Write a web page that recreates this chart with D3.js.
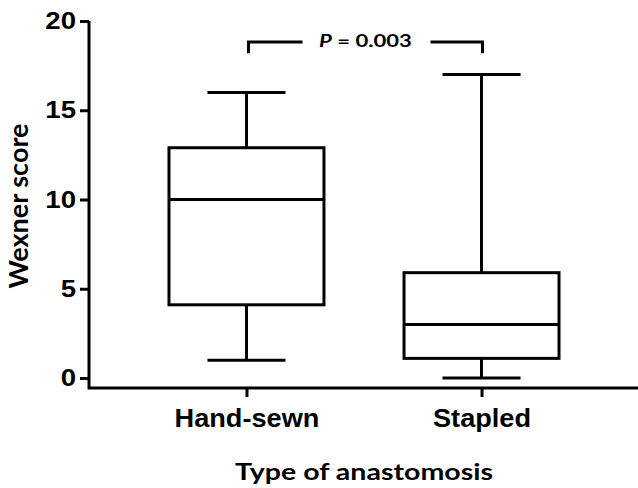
<!DOCTYPE html>
<html>
<head>
<meta charset="utf-8">
<script src="https://cdn.jsdelivr.net/npm/d3@7"></script>
<style>
  body { margin: 0; background: #fff; }
  svg { display: block; }
</style>
</head>
<body>
<div id="chart"></div>
<script>
// categories and box stats
const groups = ["Hand-sewn", "Stapled"];
const whiskerLow = [1, 0];
const q1 = [4.1, 1.1];
const median = [10, 3];
const q3 = [12.9, 5.9];
const whiskerHigh = [16, 17];

const yTicks = [0, 5, 10, 15, 20];
const pLabel = "0.003";
// bracket level / bracket foot in data units
const bracketY = [18.83, 18.2];

const W = 638, H = 488;
const svg = d3.select("#chart").append("svg")
    .attr("width", W)
    .attr("height", H);

const y = d3.scaleLinear().domain([0, 20]).range([378, 21]);
const x = d3.scalePoint().domain(groups).range([89, 639]).padding(0.67);

const axisX = 89, axisY = 388;
const sw = 3;
// the original figure is a bit stretched sideways, text too
const armFont = "'Liberation Sans', Arial, sans-serif";
const calFont = "Lato, 'Open Sans', sans-serif";

// y axis
const gy = svg.append("g")
    .attr("transform", `translate(${axisX},0)`)
    .call(d3.axisLeft(y).tickValues(yTicks).tickSize(9));
gy.select(".domain").remove();
gy.selectAll(".tick line").attr("stroke", "#000").attr("stroke-width", sw);
gy.selectAll(".tick text")
    .attr("x", 0)
    .attr("transform", "translate(-13,0) scale(1.15,1)")
    .attr("font-family", armFont)
    .attr("font-weight", "bold")
    .attr("font-size", 24)
    .attr("fill", "#000");

// x axis
const gx = svg.append("g")
    .attr("transform", `translate(0,${axisY})`)
    .call(d3.axisBottom(x).tickSize(9));
gx.select(".domain").remove();
gx.selectAll(".tick line").attr("stroke", "#000").attr("stroke-width", sw);
gx.selectAll(".tick text")
    .attr("y", 0)
    .attr("dy", 0)
    .attr("transform", "translate(0,39) scale(1.065,1)")
    .attr("font-family", armFont)
    .attr("font-weight", "bold")
    .attr("font-size", 25.5)
    .attr("fill", "#000");

// axis lines (offset corner, prism style)
svg.append("path")
    .attr("d", `M${axisX},${y(20)}V${axisY}H${W}`)
    .attr("fill", "none")
    .attr("stroke", "#000")
    .attr("stroke-width", sw);

// boxes
const boxW = 155, capW = 78;
const data = groups.map((g, i) => ({
    g, lo: whiskerLow[i], q1: q1[i], med: median[i], q3: q3[i], hi: whiskerHigh[i]
}));

const box = svg.selectAll(".box").data(data).enter().append("g")
    .attr("class", "box")
    .attr("fill", "none")
    .attr("stroke", "#000")
    .attr("stroke-width", sw);

box.append("line")
    .attr("x1", d => x(d.g)).attr("x2", d => x(d.g))
    .attr("y1", d => y(d.hi)).attr("y2", d => y(d.q3));
box.append("line")
    .attr("x1", d => x(d.g)).attr("x2", d => x(d.g))
    .attr("y1", d => y(d.q1)).attr("y2", d => y(d.lo));
box.append("line")
    .attr("x1", d => x(d.g) - capW / 2).attr("x2", d => x(d.g) + capW / 2)
    .attr("y1", d => y(d.hi)).attr("y2", d => y(d.hi));
box.append("line")
    .attr("x1", d => x(d.g) - capW / 2).attr("x2", d => x(d.g) + capW / 2)
    .attr("y1", d => y(d.lo)).attr("y2", d => y(d.lo));
box.append("rect")
    .attr("x", d => x(d.g) - boxW / 2)
    .attr("width", boxW)
    .attr("y", d => y(d.q3))
    .attr("height", d => y(d.q1) - y(d.q3));
box.append("line")
    .attr("x1", d => x(d.g) - boxW / 2).attr("x2", d => x(d.g) + boxW / 2)
    .attr("y1", d => y(d.med)).attr("y2", d => y(d.med));

// significance bracket
const bx0 = x(groups[0]) + 2, bx1 = x(groups[1]) + 1;
const mid = (bx0 + bx1) / 2;
const br = svg.append("g").attr("fill", "none").attr("stroke", "#000").attr("stroke-width", sw);
br.append("path").attr("d", `M${bx0},${y(bracketY[1])}V${y(bracketY[0])}H${mid - 63}`);
br.append("path").attr("d", `M${mid + 65},${y(bracketY[0])}H${bx1}V${y(bracketY[1])}`);

const pt = svg.append("text")
    .attr("transform", `translate(${mid},${y(bracketY[0]) + 5}) scale(1.3,1)`)
    .attr("text-anchor", "middle")
    .attr("font-family", calFont)
    .attr("font-weight", "bold")
    .attr("font-size", 17);
pt.append("tspan").attr("font-style", "italic").text("P");
pt.append("tspan").text(" = " + pLabel);

// axis titles
svg.append("text")
    .attr("transform", "translate(364,480) scale(1.27,1)")
    .attr("text-anchor", "middle")
    .attr("font-family", calFont)
    .attr("font-weight", "bold")
    .attr("font-size", 22.5)
    .text("Type of anastomosis");

svg.append("text")
    .attr("transform", "translate(28,206) rotate(-90)")
    .attr("text-anchor", "middle")
    .attr("font-family", calFont)
    .attr("font-weight", "bold")
    .attr("font-size", 27)
    .text("Wexner score");
</script>
</body>
</html>
